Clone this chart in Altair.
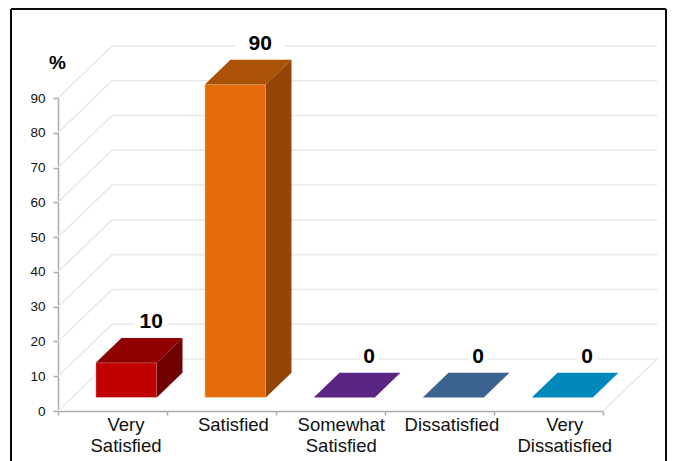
import altair as alt
import pandas as pd

categories = ["Very\nSatisfied", "Satisfied", "Somewhat\nSatisfied", "Dissatisfied", "Very\nDissatisfied"]
values = [10, 90, 0, 0, 0]
front_colors = ["#C00000", "#E46C0A", "#5B2583", "#3C6290", "#0089BA"]
top_colors = ["#900000", "#AB5207", "#5B2583", "#3C6290", "#0089BA"]
side_colors = ["#700000", "#924507", "#5B2583", "#3C6290", "#0089BA"]
y_ticks = list(range(0, 100, 10))
x_ticks = list(range(0, 6))

# Layout of the oblique projection (category units / percent units)
PX_X = 109.0
PX_Y = 313 / 90
DX = 54 / PX_X
DY = 52 / PX_Y
BAR_W = 61 / PX_X
D_FRONT, D_BACK = 0.26, 0.735
LABEL_NUDGE = [-0.005, -0.02, -0.03, -0.015, 0.02]
GAP_HALF = [16.5, 24, 9, 9, 10]
VALUE_SHIFT = 12 / PX_X

FONT = "Liberation Sans"

def proj(cat, pct, depth):
    return cat + depth * DX, pct + depth * DY

front, top, side, labels, gaps, cats = [], [], [], [], [], []
for i, (c, v) in enumerate(zip(categories, values)):
    x0 = i + 0.5 - BAR_W / 2 - 0.002
    x1 = x0 + BAR_W
    fx0, fy0 = proj(x0, 0, D_FRONT)
    fx1, fyt = proj(x1, v, D_FRONT)
    bx0, by0 = proj(x0, 0, D_BACK)
    bx1, byt = proj(x1, v, D_BACK)
    key = f"b{i}"
    front.append(dict(x=fx0, x2=fx1, y=fy0, y2=fyt, c=front_colors[i]))
    top.append(dict(k=key, y=fyt, x=fx0, x2=fx1, c=top_colors[i]))
    top.append(dict(k=key, y=byt, x=bx0, x2=bx1, c=top_colors[i]))
    side.append(dict(k=key, x=fx1, y=fy0, y2=fyt, c=side_colors[i]))
    side.append(dict(k=key, x=bx1, y=by0, y2=byt, c=side_colors[i]))
    lx = (fx0 + bx1) / 2 + VALUE_SHIFT
    ly = byt + 16 / PX_Y
    labels.append(dict(x=lx, y=ly, t=str(v)))
    gaps.append(dict(x=lx - GAP_HALF[i] / PX_X, x2=lx + GAP_HALF[i] / PX_X,
                     y=ly - 8 / PX_Y, y2=ly + 8 / PX_Y))
    cats.append(dict(x=i + 0.5 + D_FRONT * DX + LABEL_NUDGE[i], t=c))

grid = []
for v in y_ticks:
    grid.append(dict(x=DX, x2=5 + DX, y=v + DY, y2=v + DY))
    grid.append(dict(x=0, x2=DX, y=v, y2=v + DY))
grid.append(dict(x=5, x2=5 + DX, y=0, y2=DY))

axis_gray = "#ABABAB"
x_axis = alt.Axis(values=x_ticks, labels=False, title=None, grid=False, tickSize=4,
                  tickColor=axis_gray, domainColor=axis_gray, domainWidth=1.5, tickWidth=1.5)
y_axis = alt.Axis(values=y_ticks, title="%", grid=False, tickSize=5, tickColor=axis_gray,
                  domainColor=axis_gray, domainWidth=1.5, tickWidth=1.5, labelOverlap=False,
                  labelFont=FONT, labelFontSize=13.5, labelColor="#111111", labelPadding=8,
                  titleFont=FONT, titleFontSize=19, titleFontWeight="bold", titleColor="#000000",
                  titleAngle=0, titleAlign="center", titleBaseline="middle", titleX=-1, titleY=-36)

x_scale = alt.Scale(domain=[0, 5], nice=False, zero=False)
y_scale = alt.Scale(domain=[0, 90], nice=False, zero=False)
X = lambda **k: alt.X("x:Q", scale=x_scale, axis=x_axis, **k)
Y = lambda **k: alt.Y("y:Q", scale=y_scale, axis=y_axis, **k)

grid_layer = alt.Chart(pd.DataFrame(grid)).mark_rule(color="#E8E8E8", strokeWidth=1.5).encode(
    x=X(), x2="x2:Q", y=Y(), y2="y2:Q")

gap_layer = alt.Chart(pd.DataFrame(gaps)).mark_rect(color="white").encode(
    x=X(), x2="x2:Q", y=Y(), y2="y2:Q")

front_layer = alt.Chart(pd.DataFrame(front)).mark_rect(
    stroke="#FFFFFF", strokeOpacity=0.35, strokeWidth=1).encode(
    x=X(), x2="x2:Q", y=Y(), y2="y2:Q", fill=alt.Fill("c:N", scale=None))

top_layer = alt.Chart(pd.DataFrame(top)).mark_area(orient="horizontal").encode(
    y=Y(), x=X(stack=None), x2="x2:Q", fill=alt.Fill("c:N", scale=None), detail="k:N")

side_layer = alt.Chart(pd.DataFrame(side)).mark_area(orient="vertical").encode(
    x=X(), y=Y(stack=None), y2="y2:Q", fill=alt.Fill("c:N", scale=None), detail="k:N")

value_layer = alt.Chart(pd.DataFrame(labels)).mark_text(
    font=FONT, fontSize=21, fontWeight="bold", color="#000000", baseline="middle", align="center").encode(
    x=X(), y=Y(), text="t:N")

cat_layer = alt.Chart(pd.DataFrame(cats)).mark_text(
    font=FONT, fontSize=18.5, color="#111111", baseline="top", align="center",
    lineBreak="\n", lineHeight=21).encode(
    x=X(), y=alt.value(318), text="t:N")

frame = pd.DataFrame([
    dict(x=-47, x2=-47, y=-89, y2=363),
    dict(x=608, x2=608, y=-89, y2=363),
    dict(x=-47, x2=608, y=-89, y2=-89),
])
frame_layers = [
    alt.Chart(frame.iloc[[i]]).mark_rule(color="#0A0A0A", strokeWidth=2).encode(
        x=alt.value(float(r.x)), x2=alt.value(float(r.x2)),
        y=alt.value(float(r.y)), y2=alt.value(float(r.y2)))
    for i, r in enumerate(frame.itertuples())
]

chart = alt.layer(grid_layer, gap_layer, front_layer, top_layer, side_layer,
                  value_layer, cat_layer, *frame_layers).properties(
    width=545, height=313, background="white",
    padding={"left": 50, "top": 90, "right": 64, "bottom": 50},
    autosize=alt.AutoSizeParams(type="none"),
).configure_view(stroke=None)

chart.save("out.html", embed_options={"renderer": "svg", "actions": False})
